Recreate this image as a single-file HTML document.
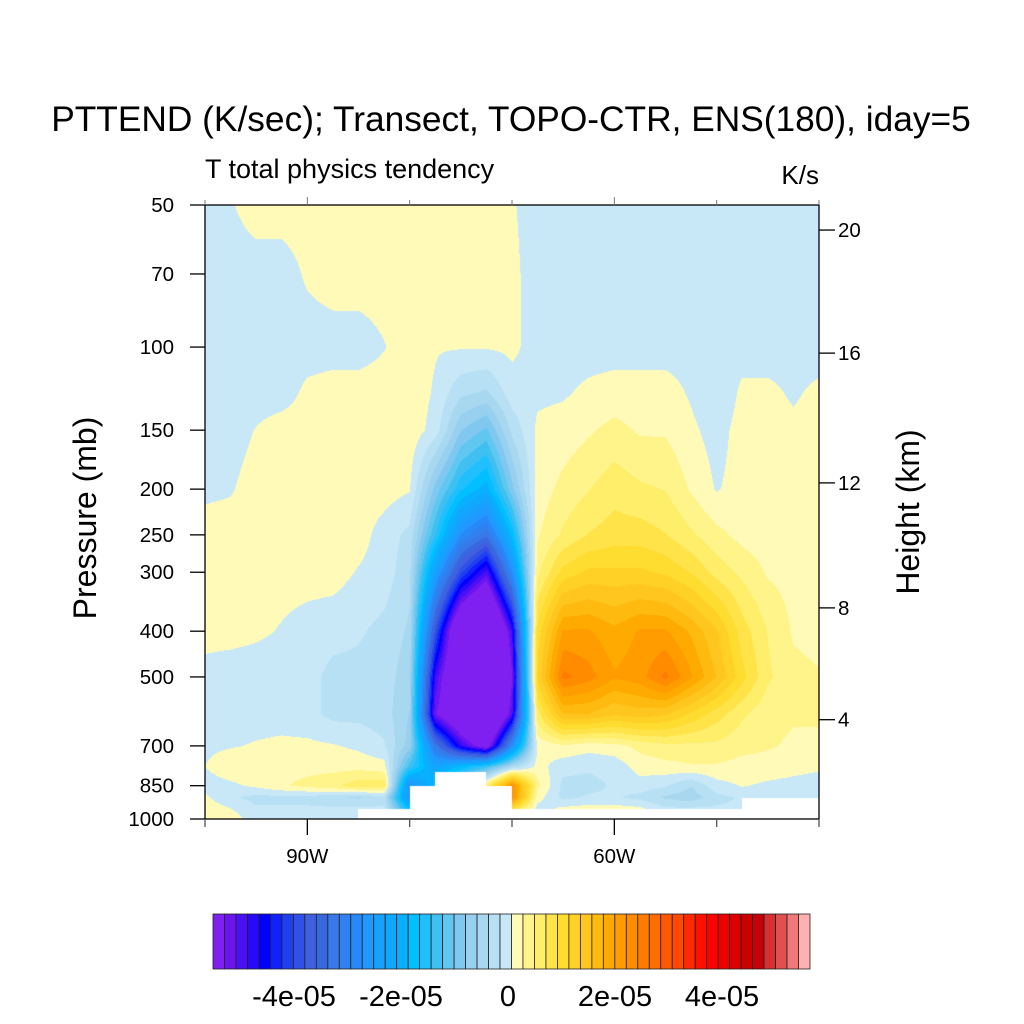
<!DOCTYPE html>
<html><head><meta charset="utf-8"><style>
html,body{margin:0;padding:0;background:#fff;}
#wrap{position:relative;width:1024px;height:1024px;overflow:hidden;font-family:"Liberation Sans",sans-serif;}
#plot{position:absolute;left:205px;top:205px;}
#ov{position:absolute;left:0;top:0;}
</style></head><body>
<div id="wrap">
<canvas id="plot" width="614" height="614"></canvas>
<svg id="ov" width="1024" height="1024"></svg>
</div>
<script>
// ---- data (values in units of 1e-5 K/s) ----
const lons = [-100,-97.5,-95,-92.5,-90,-87.5,-85,-82.5,-80,-77.5,-75,-72.5,-70,-67.5,-65,-62.5,-60,-57.5,-55,-52.5,-50,-47.5,-45,-42.5,-40];
const levels = [50,70,100,125,150,200,250,300,400,500,600,700,775,850,900,950,1000];
const row50  = [-0.1,-0.02,0.1,0.1,0.1,0.1,0.1,0.1,0.1,0.1,0.1,0.1,0.02,-0.1,-0.1,-0.1,-0.1,-0.1,-0.1,-0.1,-0.1,-0.1,-0.1,-0.1,-0.1];
const row70  = [-0.1,-0.1,-0.1,-0.1,0.03,0.1,0.1,0.1,0.1,0.1,0.1,0.1,0.05,-0.1,-0.1,-0.1,-0.1,-0.1,-0.1,-0.1,-0.1,-0.1,-0.1,-0.1,-0.1];
const row100 = [-0.1,-0.1,-0.1,-0.1,-0.1,-0.1,-0.1,-0.01,0.1,0.02,0.02,0.02,0.05,-0.1,-0.1,-0.1,-0.1,-0.1,-0.1,-0.1,-0.1,-0.1,-0.1,-0.1,-0.1];
const row125 = [-0.1,-0.1,-0.1,-0.1,0.05,0.1,0.1,0.1,0.15,-0.03,-0.4,-0.5,-0.1,-0.05,-0.03,0.05,0.1,0.1,0.1,-0.03,-0.2,0.05,0.05,-0.03,0.05];
const row150 = [-0.1,-0.1,0.01,0.1,0.1,0.1,0.1,0.1,0.15,-0.1,-0.9,-1.2,-0.4,0.05,0.1,0.2,0.3,0.2,0.2,0.05,-0.1,0.1,0.1,0.05,0.1];
const row200 = [-0.05,-0.02,0.1,0.1,0.1,0.1,0.1,0.1,0.02,-1.0,-1.8,-2.2,-1.0,0.1,0.3,0.45,0.6,0.5,0.45,0.2,-0.02,0.1,0.1,0.1,0.1];
const row250 = [0.1,0.1,0.1,0.1,0.1,0.1,0.1,-0.1,-0.3,-1.6,-3,-3.6,-2,0.2,0.5,0.7,0.8,0.8,0.7,0.5,0.3,0.15,0.1,0.1,0.1];
const row300 = [0.1,0.1,0.1,0.1,0.1,0.1,-0.02,-0.1,-0.4,-2.6,-4.3,-5.4,-3,0.4,1.0,1.2,1.2,1.2,1.1,0.9,0.6,0.4,0.2,0.15,0.15];
const row400 = [0.1,0.1,0.05,-0.02,-0.1,-0.15,-0.2,-0.3,-0.5,-4.2,-7,-8,-5.3,1.0,2.1,2.1,1.9,2.1,2.1,1.8,1.4,0.8,0.45,0.2,0.15];
const row500 = [-0.1,-0.15,-0.15,-0.15,-0.15,-0.3,-0.3,-0.35,-0.6,-5.3,-7,-9,-5.8,1.2,2.6,2.4,2.1,2.2,2.6,2.1,1.6,1.0,0.5,0.3,0.25];
const row600 = [-0.1,-0.1,-0.1,-0.1,-0.15,-0.3,-0.3,-0.35,-0.7,-5.7,-6.8,-8,-5.4,0.6,1.6,1.6,1.4,1.5,1.4,1.1,0.8,0.5,0.3,0.25,0.25];
const row700 = [-0.05,-0.02,0.02,0.05,0.05,0.02,-0.05,-0.2,-0.8,-3.5,-5.2,-6.2,-3,0.05,0.2,0.1,0.15,0.3,0.4,0.4,0.4,0.3,0.25,0.2,0.2];
const row775 = [0.0,0.15,0.15,0.15,0.15,0.15,0.15,0.1,-1.5,-2.5,-2,-1.5,-0.5,0.1,-0.15,-0.2,-0.15,0.1,0.15,0.2,0.2,0.15,0.15,0.1,0.05];
const row850 = [-0.1,-0.05,0.05,0.2,0.3,0.4,0.6,0.6,-3,-2,-1,0.5,2.4,0.3,-0.3,-0.3,-0.2,-0.1,-0.2,-0.45,-0.1,0.02,-0.05,-0.1,-0.15];
const row900 = [0.05,-0.2,-0.3,-0.3,-0.3,-0.4,-0.5,-0.3,-3,-2,-1,0.5,2.4,0.1,-0.3,-0.2,-0.2,-0.3,-0.5,-0.6,-0.3,-0.2,-0.2,-0.2,-0.2];
const row950 = [0.15,0.0,-0.2,-0.2,-0.2,-0.2,-0.2,-0.2,-2,-1,-1,0.5,1.0,-0.1,0.05,0.1,0.1,0.05,-0.2,-0.2,-0.2,-0.2,-0.2,-0.2,-0.2];
const row1000= [0.15,0.15,-0.15,-0.15,-0.15,-0.15,-0.15,-0.15,-0.2,-0.2,-0.2,-0.2,-0.2,-0.2,-0.2,-0.2,-0.2,-0.2,-0.2,-0.2,-0.2,-0.2,-0.2,-0.2,-0.2];
const surfacePressure = [1000,1000,1000,1000,1000,1000,950,950,850,795,795,850,950,950,950,950,950,950,950,950,950,900,900,900];
const pTicks = [50,70,100,150,200,250,300,400,500,700,850,1000];
const hTicks = [4,8,12,16,20];
const hTickPressure = [616,357,194,103,56.5];
const xTickLons = [-90,-60];
const xTickLabels = ["90W","60W"];
const cbLabels = ["-4e-05","-2e-05","0","2e-05","4e-05"];
const cbLabelValues = [-4,-2,0,2,4];
const grid=[row50,row70,row100,row125,row150,row200,row250,row300,row400,row500,row600,row700,row775,row850,row900,row950,row1000];
const colors=["#8020f0","#6a14f0","#4a10f5","#2a08f8","#0000ff","#1020ff","#2040f0","#3050e8","#4060e0","#3868e0","#3878e8","#3080f0","#2888f8","#2098ff","#18a0ff","#10a8ff","#08b0ff","#00c0ff","#20c0ff","#40c0f0","#60c8f0","#80c8f0","#98d0f0","#a8d8f0","#b8e0f4","#c8e8f8",
"#fffab8","#fff48a","#ffee6a","#ffe348","#ffdc30","#ffd025","#ffc620","#ffba10","#ffaa00","#ff9c00","#ff8c00","#ff7c00","#ff6c00","#ff5800","#ff4800","#ff2800","#ff1000","#ff0000","#ee0000","#dd0000","#cc0000","#c40008","#d83030","#e05050","#f07878","#ffb0b0"];
const STEP=0.23;
// ---- axes ----
const X0=205,X1=819,Y0=205,Y1=819;
const xs=lon=>X0+(lon-lons[0])/(lons[lons.length-1]-lons[0])*(X1-X0);
const ys=p=>Y0+Math.log(p/50)/Math.log(1000/50)*(Y1-Y0);
const pAt=y=>50*Math.pow(20,(y-Y0)/(Y1-Y0));
function hex(c){return [parseInt(c.substr(1,2),16),parseInt(c.substr(3,2),16),parseInt(c.substr(5,2),16)];}
const rgb=colors.map(hex);
// ---- field ----
const cv=document.getElementById('plot'),ctx=cv.getContext('2d');
const W=614,H=614,img=ctx.createImageData(W,H);
const nC=lons.length;
for(let py=0;py<H;py++){
  const p=pAt(Y0+py+0.5);
  let i=0;while(i<levels.length-2&&p>levels[i+1])i++;
  const t=Math.min(1,Math.max(0,Math.log(p/levels[i])/Math.log(levels[i+1]/levels[i])));
  for(let px=0;px<W;px++){
    const fx=(px+0.5)/W*(nC-1);
    let j=Math.min(nC-2,Math.floor(fx));const u=fx-j;
    const cell=Math.min(surfacePressure.length-1,Math.floor(fx));
    const k=(py*W+px)*4;
    if(p>surfacePressure[cell]+1){img.data[k]=255;img.data[k+1]=255;img.data[k+2]=255;img.data[k+3]=255;continue;}
    const a=grid[i][j],b=grid[i][j+1],c=grid[i+1][j],d=grid[i+1][j+1];
    const v=(a*(1-u)+b*u)*(1-t)+(c*(1-u)+d*u)*t;
    let idx=Math.floor(v/STEP)+26;idx=Math.max(0,Math.min(51,idx));
    const col=rgb[idx];
    img.data[k]=col[0];img.data[k+1]=col[1];img.data[k+2]=col[2];img.data[k+3]=255;
  }
}
ctx.putImageData(img,0,0);
// ---- overlay ----
const svg=document.getElementById('ov');const NS='http://www.w3.org/2000/svg';
function mk(tag,attrs,txt){const e=document.createElementNS(NS,tag);for(const a in attrs)e.setAttribute(a,attrs[a]);if(txt!==undefined)e.textContent=txt;svg.appendChild(e);return e;}
let e;
e=mk('text',{x:511,y:131,'font-size':35.3,'text-anchor':'middle',fill:'#000'},'PTTEND (K/sec); Transect, TOPO-CTR, ENS(180), iday=5');


e=mk('text',{x:205,y:178,'font-size':27,fill:'#000'},'T total physics tendency');


e=mk('text',{x:819,y:184,'font-size':26,'text-anchor':'end',fill:'#000'},'K/s');


e=mk('text',{x:0,y:0,'font-size':32,'text-anchor':'middle',transform:'translate(96,518) rotate(-90)',fill:'#000'},'Pressure (mb)');


e=mk('text',{x:0,y:0,'font-size':32,'text-anchor':'middle',transform:'translate(919,512) rotate(-90)',fill:'#000'},'Height (km)');


e=mk('rect',{x:X0,y:Y0,width:X1-X0,height:Y1-Y0,fill:'none',stroke:'#000','stroke-width':1.3});


pTicks.forEach(p=>{const y=ys(p);
  e=mk('line',{x1:X0-15,x2:X0,y1:y,y2:y,stroke:'#000','stroke-width':1.3});
  
  
  e=mk('text',{x:X0-31,y:y+7,'font-size':20.5,'text-anchor':'end',fill:'#000'},String(p));
  
  
});
hTicks.forEach((h,i)=>{const y=ys(hTickPressure[i]);
  e=mk('line',{x1:X1,x2:X1+16,y1:y,y2:y,stroke:'#000','stroke-width':1.3});
  
  
  e=mk('text',{x:X1+19,y:y+7,'font-size':20.5,fill:'#000'},String(h));
  
  
});
for(let lon=-100;lon<=-40;lon+=10){const x=xs(lon);const major=xTickLons.indexOf(lon)>=0;
  e=mk('line',{x1:x,x2:x,y1:Y1,y2:Y1+(major?16:8),stroke:major?'#000':'#555','stroke-width':1.3});
  
  
  e=mk('line',{x1:x,x2:x,y1:Y0-(major?8:5),y2:Y0,stroke:'#777','stroke-width':1});
  
  
}
xTickLons.forEach((lon,i)=>{
  e=mk('text',{x:xs(lon),y:863,'font-size':20.5,'text-anchor':'middle',fill:'#000'},xTickLabels[i]);
  
  
});
// colorbar
const CB0=213,CB1=810,CBY=914,CBH=55,bw=(CB1-CB0)/colors.length;
colors.forEach((c,i)=>{
  e=mk('rect',{x:CB0+i*bw,y:CBY,width:bw,height:CBH,fill:c,stroke:'#222','stroke-width':0.8});
  
  
});
const cbx=v=>508+v*53.5;
cbLabels.forEach((l,i)=>{
  e=mk('text',{x:cbx(cbLabelValues[i]),y:1006,'font-size':29,'text-anchor':'middle',fill:'#000'},l);
  
  
});
</script>
</body></html>
